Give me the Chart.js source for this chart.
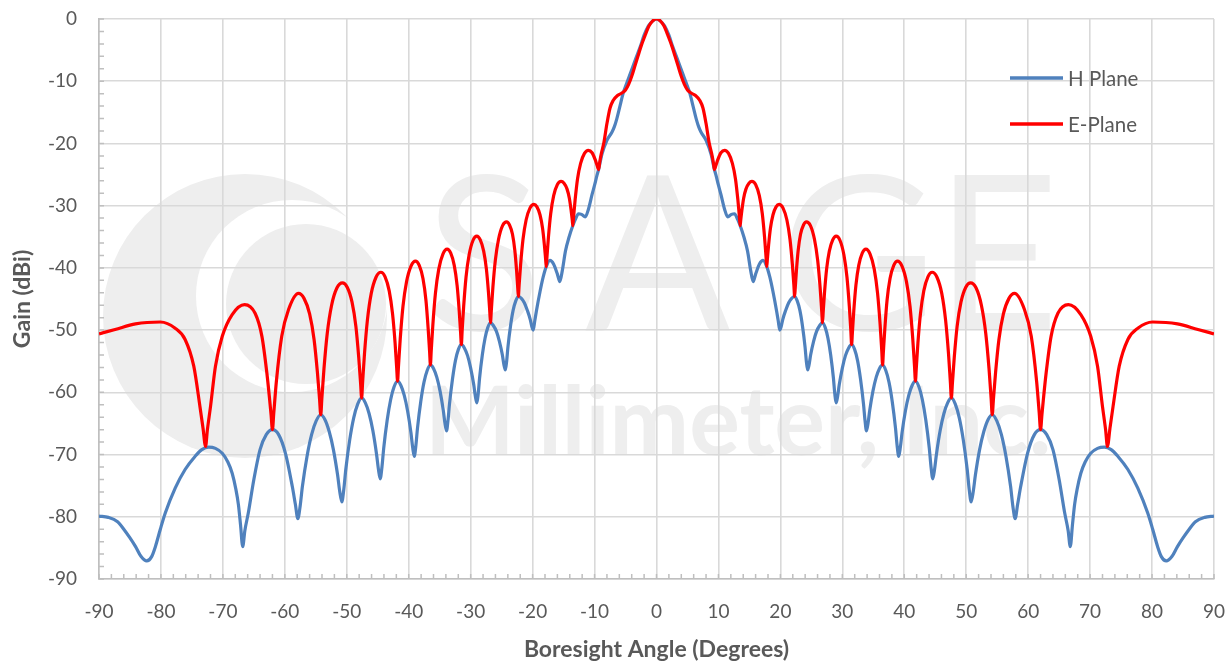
<!DOCTYPE html>
<html>
<head>
<meta charset="utf-8">
<script src="https://cdn.jsdelivr.net/npm/chart.js@4.4.1/dist/chart.umd.min.js"></script>
<style>
  html, body { margin: 0; padding: 0; background: #ffffff; }
  #gainChart { display: block; }
</style>
</head>
<body>
<canvas id="gainChart" width="1229" height="663"></canvas>
<script>
// H Plane (blue)
let hAngle = [
  -90, -88.5, -87, -86, -85, -84.1, -83.2, -82.3, -81.5, -80.9, -80.1, -79.3, -77.7, -76.1, -74.5, -73.4, -72.3, -71.2, -70.1, -69.2,
  -68.5, -67.9, -67.5, -67.15, -66.8, -66.45, -65.9, -65, -64, -63, -62, -61, -59.9, -58.8, -58.3, -57.9,
  -57.53, -57.16, -56.42, -55.68, -54.94, -54.2, -53.52, -52.84, -52.16, -51.48, -51.14, -50.8,
  -50.48, -50.16, -49.52, -48.88, -48.24, -47.6, -47, -46.4, -45.8, -45.2, -44.9, -44.6,
  -44.32, -44.04, -43.48, -42.92, -42.36, -41.8, -41.26, -40.72, -40.18, -39.64, -39.37, -39.1,
  -38.84, -38.58, -38.06, -37.54, -37.02, -36.5, -35.98, -35.46, -34.94, -34.42, -34.16, -33.9,
  -33.66, -33.42, -32.94, -32.46, -31.98, -31.5, -31, -30.5, -30, -29.5, -29.25, -29,
  -28.78, -28.56, -28.12, -27.68, -27.24, -26.8, -26.32, -25.84, -25.36, -24.88, -24.64, -24.4,
  -24.19, -23.98, -23.56, -23.14, -22.72, -22.3, -21.82, -21.34, -20.86, -20.38, -20.14, -19.9,
  -19.65, -19.4, -18.8, -18.3, -17.8, -17.2, -16.6, -16, -15.6, -15.2, -14.7, -14.1, -13.5, -13.1, -12.6, -12.1, -11.5, -11,
  -10.4, -10, -9.6, -9.35, -8.8, -8, -7.2, -6.8, -6.4, -5.9, -5.4, -4.8, -4.2, -3.4, -2.6, -2, -1.3, -0.6,
  0,
  0.6, 1.3, 2, 2.6, 3.4, 4.2, 4.8, 5.4, 5.9, 6.4, 6.8, 7.2, 8, 8.8, 9.35, 9.6, 10, 10.4,
  11, 11.5, 12.1, 12.6, 13.1, 13.5, 14.1, 14.7, 15.2, 15.6, 16, 16.6, 17.2, 17.8, 18.3, 18.8, 19.4, 19.65,
  19.9, 20.14, 20.38, 20.86, 21.34, 21.82, 22.3, 22.72, 23.14, 23.56, 23.98, 24.19,
  24.4, 24.64, 24.88, 25.36, 25.84, 26.32, 26.8, 27.24, 27.68, 28.12, 28.56, 28.78,
  29, 29.25, 29.5, 30, 30.5, 31, 31.5, 31.98, 32.46, 32.94, 33.42, 33.66,
  33.9, 34.16, 34.42, 34.94, 35.46, 35.98, 36.5, 37.02, 37.54, 38.06, 38.58, 38.84,
  39.1, 39.37, 39.64, 40.18, 40.72, 41.26, 41.8, 42.36, 42.92, 43.48, 44.04, 44.32,
  44.6, 44.9, 45.2, 45.8, 46.4, 47, 47.6, 48.24, 48.88, 49.52, 50.16, 50.48,
  50.8, 51.14, 51.48, 52.16, 52.84, 53.52, 54.2, 54.94, 55.68, 56.42, 57.16, 57.53,
  57.9, 58.3, 58.8, 59.9, 61, 62, 63, 64, 65, 65.9, 66.45, 66.8, 67.15, 67.5, 67.9, 68.5,
  69.2, 70.1, 71.2, 72.3, 73.4, 74.5, 76.1, 77.7, 79.3, 80.1, 80.9, 81.5, 82.3, 83.2, 84.1, 85, 86, 87, 88.5, 90
];
let hGain = [
  -79.9, -80.1, -80.8, -82.0, -83.4, -84.8, -86.4, -87.1, -86.4, -84.8, -82.0, -79.4, -75.4, -72.4, -70.3, -69.2, -68.8, -69.0, -69.8, -71.2,
  -73.0, -75.6, -78.0, -81.3, -84.8, -82.2, -79.4, -74.0, -69.2, -66.8, -66.0, -66.8, -69.8, -75.1, -78.0, -80.3,
  -78.3, -75.1, -70.3, -66.8, -64.6, -63.6, -64.4, -66.3, -69.2, -73.3, -75.9, -77.6,
  -75.6, -72.4, -67.6, -64.1, -61.9, -60.9, -61.7, -63.4, -66.1, -69.9, -72.3, -73.9,
  -72.0, -69.0, -64.5, -61.2, -59.1, -58.2, -58.9, -60.5, -63.0, -66.5, -68.8, -70.3,
  -68.5, -65.7, -61.5, -58.4, -56.5, -55.6, -56.2, -57.6, -59.8, -62.9, -64.9, -66.2,
  -64.5, -61.9, -57.9, -54.9, -53.1, -52.3, -52.9, -54.1, -56.1, -58.8, -60.6, -61.7,
  -60.2, -57.7, -54.0, -51.3, -49.6, -48.8, -49.3, -50.2, -51.8, -54.0, -55.5, -56.4,
  -55.0, -52.7, -49.3, -46.8, -45.3, -44.6, -44.9, -45.6, -46.8, -48.3, -49.4, -50.0,
  -48.5, -47.0, -43.8, -41.5, -39.8, -38.8, -39.4, -41.0, -42.2, -40.4, -37.3, -35.0, -33.2, -32.2, -31.3, -31.4, -31.8, -30.6,
  -28.2, -26.7, -25.1, -24.2, -21.7, -19.5, -18.2, -17.3, -16.0, -14.0, -12.0, -10.3, -8.7, -6.5, -4.4, -2.6, -1.1, -0.3,
  0,
  -0.3, -1.1, -2.6, -4.4, -6.5, -8.7, -10.3, -12.0, -14.0, -16.0, -17.3, -18.2, -19.5, -21.7, -24.2, -25.1, -26.7, -28.2,
  -30.6, -31.8, -31.4, -31.3, -32.2, -33.2, -35.0, -37.3, -40.4, -42.2, -41.0, -39.4, -38.8, -39.8, -41.5, -43.8, -47.0, -48.5,
  -50.0, -49.4, -48.3, -46.8, -45.6, -44.9, -44.6, -45.3, -46.8, -49.3, -52.7, -55.0,
  -56.4, -55.5, -54.0, -51.8, -50.2, -49.3, -48.8, -49.6, -51.3, -54.0, -57.7, -60.2,
  -61.7, -60.6, -58.8, -56.1, -54.1, -52.9, -52.3, -53.1, -54.9, -57.9, -61.9, -64.5,
  -66.2, -64.9, -62.9, -59.8, -57.6, -56.2, -55.6, -56.5, -58.4, -61.5, -65.7, -68.5,
  -70.3, -68.8, -66.5, -63.0, -60.5, -58.9, -58.2, -59.1, -61.2, -64.5, -69.0, -72.0,
  -73.9, -72.3, -69.9, -66.1, -63.4, -61.7, -60.9, -61.9, -64.1, -67.6, -72.4, -75.6,
  -77.6, -75.9, -73.3, -69.2, -66.3, -64.4, -63.6, -64.6, -66.8, -70.3, -75.1, -78.3,
  -80.3, -78.0, -75.1, -69.8, -66.8, -66.0, -66.8, -69.2, -74.0, -79.4, -82.2, -84.8, -81.3, -78.0, -75.6, -73.0,
  -71.2, -69.8, -69.0, -68.8, -69.2, -70.3, -72.4, -75.4, -79.4, -82.0, -84.8, -86.4, -87.1, -86.4, -84.8, -83.4, -82.0, -80.8, -80.1, -79.9
];

// E-Plane (red)
let eAngle = [
  -90, -87.4, -84.1, -80.1, -77.7, -76.1, -74.7, -73.7, -73.2, -72.8,
  -72.5, -72, -71.2, -70.1, -68.5, -66.5, -64.8, -63.7, -62.9, -62.45, -62.22, -62,
  -61.79, -61.37, -60.5, -59.4, -57.8, -56.9, -56, -55.28, -54.74, -54.38, -54.2,
  -54.03, -53.68, -53.15, -52.45, -51.58, -50.7, -49.93, -49.15, -48.53, -48.07, -47.76, -47.6,
  -47.45, -47.14, -46.67, -46.05, -45.28, -44.5, -43.83, -43.15, -42.61, -42.2, -41.94, -41.8,
  -41.66, -41.37, -40.93, -40.35, -39.63, -38.9, -38.3, -37.7, -37.22, -36.86, -36.62, -36.5,
  -36.37, -36.1, -35.69, -35.15, -34.48, -33.8, -33.23, -32.65, -32.19, -31.85, -31.62, -31.5,
  -31.38, -31.13, -30.75, -30.25, -29.63, -29, -28.45, -27.9, -27.46, -27.13, -26.91, -26.8,
  -26.67, -26.41, -26.02, -25.5, -24.85, -24.2, -23.73, -23.25, -22.87, -22.59, -22.4, -22.3,
  -22.18, -21.93, -21.55, -21.05, -20.43, -19.8, -19.3, -18.8, -18.4, -18.1, -17.9, -17.8,
  -17.68, -17.44, -17.08, -16.6, -16, -15.4, -14.93, -14.45, -14.07, -13.79, -13.6, -13.5,
  -13.38, -13.13, -12.75, -12.25, -11.63, -11, -10.4, -9.9, -9.6, -9.35,
  -9.15, -8.9, -8.5, -8, -7.5, -7, -6.3, -5.6, -5, -4.5, -4, -3.5, -3, -2.5, -1.9, -1.2, -0.6,
  0,
  0.6, 1.2, 1.9, 2.5, 3, 3.5, 4, 4.5, 5, 5.6, 6.3, 7, 7.5, 8, 8.5, 8.9, 9.15,
  9.35, 9.6, 9.9, 10.4, 11, 11.63, 12.25, 12.75, 13.13, 13.38,
  13.5, 13.6, 13.79, 14.07, 14.45, 14.93, 15.4, 16, 16.6, 17.08, 17.44, 17.68,
  17.8, 17.9, 18.1, 18.4, 18.8, 19.3, 19.8, 20.43, 21.05, 21.55, 21.93, 22.18,
  22.3, 22.4, 22.59, 22.87, 23.25, 23.73, 24.2, 24.85, 25.5, 26.02, 26.41, 26.67,
  26.8, 26.91, 27.13, 27.46, 27.9, 28.45, 29, 29.63, 30.25, 30.75, 31.13, 31.38,
  31.5, 31.62, 31.85, 32.19, 32.65, 33.23, 33.8, 34.48, 35.15, 35.69, 36.1, 36.37,
  36.5, 36.62, 36.86, 37.22, 37.7, 38.3, 38.9, 39.63, 40.35, 40.93, 41.37, 41.66,
  41.8, 41.94, 42.2, 42.61, 43.15, 43.83, 44.5, 45.28, 46.05, 46.67, 47.14, 47.45,
  47.6, 47.76, 48.07, 48.53, 49.15, 49.93, 50.7, 51.58, 52.45, 53.15, 53.68, 54.03,
  54.2, 54.38, 54.74, 55.28, 56, 56.9, 57.8, 59.4, 60.5, 61.37, 61.79,
  62, 62.22, 62.45, 62.9, 63.7, 64.8, 66.5, 68.5, 70.1, 71.2, 72, 72.5,
  72.8, 73.2, 73.7, 74.7, 76.1, 77.7, 80.1, 84.1, 87.4, 90
];
let eGain = [
  -50.6, -49.9, -49.0, -48.7, -49.7, -51.5, -55.8, -62.3, -65.8, -68.7,
  -66.0, -62.3, -55.8, -51.0, -47.5, -45.9, -47.3, -51.0, -56.9, -61.2, -63.6, -66.0,
  -63.4, -58.3, -51.0, -46.7, -44.1, -44.9, -47.4, -51.5, -56.8, -61.3, -63.6,
  -61.1, -56.2, -50.5, -46.0, -43.2, -42.4, -43.1, -45.5, -49.4, -54.4, -58.7, -60.9,
  -58.5, -53.8, -48.4, -44.1, -41.5, -40.7, -41.4, -43.7, -47.4, -52.1, -56.1, -58.2,
  -55.9, -51.4, -46.2, -42.2, -39.7, -38.9, -39.6, -41.7, -45.2, -49.8, -53.6, -55.6,
  -53.4, -49.1, -44.1, -40.2, -37.8, -37.0, -37.6, -39.6, -42.8, -46.9, -50.5, -52.3,
  -50.2, -46.2, -41.5, -37.9, -35.6, -34.9, -35.5, -37.3, -40.2, -43.9, -47.1, -48.8,
  -46.9, -43.1, -38.8, -35.4, -33.2, -32.6, -33.1, -34.6, -37.2, -40.4, -43.2, -44.6,
  -42.8, -39.4, -35.4, -32.3, -30.4, -29.8, -30.2, -31.5, -33.6, -36.3, -38.6, -39.8,
  -38.2, -35.0, -31.3, -28.4, -26.6, -26.1, -26.4, -27.3, -28.8, -30.7, -32.3, -33.2,
  -31.7, -29.0, -25.7, -23.2, -21.6, -21.1, -21.5, -22.6, -23.5, -24.2,
  -22.9, -21.6, -19.9, -16.8, -14.3, -13.1, -12.3, -11.9, -11.4, -10.5, -9.2, -7.6, -6.0, -4.4, -2.8, -1.1, -0.3,
  0,
  -0.3, -1.1, -2.8, -4.4, -6.0, -7.6, -9.2, -10.5, -11.4, -11.9, -12.3, -13.1, -14.3, -16.8, -19.9, -21.6, -22.9,
  -24.2, -23.5, -22.6, -21.5, -21.1, -21.6, -23.2, -25.7, -29.0, -31.7,
  -33.2, -32.3, -30.7, -28.8, -27.3, -26.4, -26.1, -26.6, -28.4, -31.3, -35.0, -38.2,
  -39.8, -38.6, -36.3, -33.6, -31.5, -30.2, -29.8, -30.4, -32.3, -35.4, -39.4, -42.8,
  -44.6, -43.2, -40.4, -37.2, -34.6, -33.1, -32.6, -33.2, -35.4, -38.8, -43.1, -46.9,
  -48.8, -47.1, -43.9, -40.2, -37.3, -35.5, -34.9, -35.6, -37.9, -41.5, -46.2, -50.2,
  -52.3, -50.5, -46.9, -42.8, -39.6, -37.6, -37.0, -37.8, -40.2, -44.1, -49.1, -53.4,
  -55.6, -53.6, -49.8, -45.2, -41.7, -39.6, -38.9, -39.7, -42.2, -46.2, -51.4, -55.9,
  -58.2, -56.1, -52.1, -47.4, -43.7, -41.4, -40.7, -41.5, -44.1, -48.4, -53.8, -58.5,
  -60.9, -58.7, -54.4, -49.4, -45.5, -43.1, -42.4, -43.2, -46.0, -50.5, -56.2, -61.1,
  -63.6, -61.3, -56.8, -51.5, -47.4, -44.9, -44.1, -46.7, -51.0, -58.3, -63.4,
  -66.0, -63.6, -61.2, -56.9, -51.0, -47.3, -45.9, -47.5, -51.0, -55.8, -62.3, -66.0,
  -68.7, -65.8, -62.3, -55.8, -51.5, -49.7, -48.7, -49.0, -49.9, -50.6
];

let seriesNames = ['H Plane', 'E-Plane'];
let seriesColors = ['#4f81bd', '#ff0000'];

let xTitle = 'Boresight Angle (Degrees)';
let yTitle = 'Gain (dBi)';

let hPoints = hAngle.map((a, i) => ({ x: a, y: hGain[i] }));
let ePoints = eAngle.map((a, i) => ({ x: a, y: eGain[i] }));

const textGrey = '#595959';
const gridGrey = '#d9d9d9';
const axisGrey = '#bfbfbf';

// faint company logo behind the grid
const watermark = {
  id: 'watermark',
  beforeDraw(chart) {
    const c = chart.ctx;
    c.save();
    c.fillStyle = '#eeeeee';
    c.beginPath(); c.arc(245, 316, 142, 0, Math.PI * 2); c.fill();
    c.fillStyle = '#ffffff';
    c.beginPath(); c.arc(292, 296, 96, 0, Math.PI * 2); c.fill();
    c.fillStyle = '#eeeeee';
    c.beginPath(); c.arc(306, 304, 80, 0, Math.PI * 2); c.fill();
    c.font = 'normal 215px Lato';
    c.textBaseline = 'alphabetic';
    c.textAlign = 'left';
    c.fillText('S', 425, 330);
    c.fillText('A', 585, 330);
    c.fillText('G', 780, 330);
    c.fillText('E', 935, 330);
    c.font = 'bold 95px Lato';
    c.fillText('Millimeter, Inc.', 425, 455, 665);
    c.restore();
  }
};

// small inward ticks every 2 units
const minorTicks = {
  id: 'minorTicks',
  beforeDatasetsDraw(chart) {
    const c = chart.ctx;
    const xs = chart.scales.x, ys = chart.scales.y;
    const area = chart.chartArea;
    c.save();
    c.strokeStyle = axisGrey;
    c.lineWidth = 1.5;
    c.beginPath();
    for (let v = -90; v <= 90; v += 2) {
      const px = xs.getPixelForValue(v);
      c.moveTo(px, area.bottom);
      c.lineTo(px, area.bottom - 5);
    }
    for (let v = -90; v <= 0; v += 2) {
      const py = ys.getPixelForValue(v);
      c.moveTo(area.left, py);
      c.lineTo(area.left + 5, py);
    }
    c.stroke();
    c.restore();
  }
};

// legend inside the plot, top right
const sideLegend = {
  id: 'sideLegend',
  afterDraw(chart) {
    const c = chart.ctx;
    c.save();
    c.font = '20.5px Lato';
    c.textBaseline = 'middle';
    c.textAlign = 'left';
    chart.data.datasets.forEach((ds, i) => {
      const y = 78 + i * 46;
      c.strokeStyle = ds.borderColor;
      c.lineWidth = 3.5;
      c.beginPath();
      c.moveTo(1010, y);
      c.lineTo(1063, y);
      c.stroke();
      c.fillStyle = textGrey;
      c.fillText(ds.label, 1068, y + 1);
    });
    c.restore();
  }
};

const ctx = document.getElementById('gainChart');
new Chart(ctx, {
  type: 'line',
  data: {
    datasets: [
      {
        label: seriesNames[0],
        data: hPoints,
        borderColor: seriesColors[0],
        borderWidth: 3.2,
        pointRadius: 0,
        cubicInterpolationMode: 'monotone',
        order: 1
      },
      {
        label: seriesNames[1],
        data: ePoints,
        borderColor: seriesColors[1],
        borderWidth: 3.2,
        pointRadius: 0,
        cubicInterpolationMode: 'monotone',
        order: 0
      }
    ]
  },
  options: {
    responsive: false,
    animation: false,
    layout: { padding: { top: 19, right: 15, left: 0, bottom: 0 } },
    plugins: {
      legend: { display: false },
      tooltip: { enabled: false }
    },
    scales: {
      x: {
        type: 'linear',
        min: -90,
        max: 90,
        ticks: { stepSize: 10, padding: 21, color: textGrey, font: { family: 'Lato', size: 19 }, maxRotation: 0 },
        grid: { color: gridGrey, lineWidth: 1.6, drawTicks: false },
        border: { color: axisGrey, width: 1.6 },
        title: { display: true, text: xTitle, color: textGrey, font: { family: 'Lato', size: 23, weight: 'bold' }, padding: { top: 0, bottom: 0 } },
        afterFit(scale) {
          scale.height = 84;
          scale.paddingLeft = 0;
          scale.paddingRight = 0;
        }
      },
      y: {
        min: -90,
        max: 0,
        ticks: { stepSize: 10, padding: 22, color: textGrey, font: { family: 'Lato', size: 19 } },
        grid: { color: gridGrey, lineWidth: 1.6, drawTicks: false },
        border: { color: axisGrey, width: 1.6 },
        title: { display: true, text: yTitle, color: textGrey, font: { family: 'Lato', size: 23, weight: 'bold' }, padding: { top: 9, bottom: 0 } },
        afterFit(scale) {
          scale.width = 99;
          scale.paddingTop = 0;
          scale.paddingBottom = 0;
        }
      }
    }
  },
  plugins: [watermark, minorTicks, sideLegend]
});
</script>
</body>
</html>
